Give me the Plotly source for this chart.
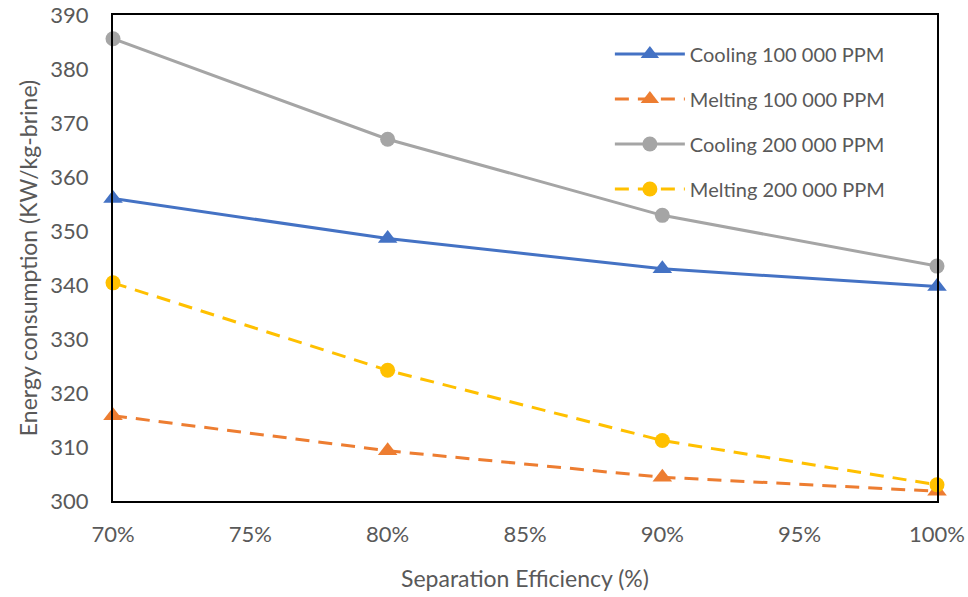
import plotly.graph_objects as go

# Separation efficiency (fraction) and specific energy consumption per case
efficiency = [0.70, 0.80, 0.90, 1.00]
cooling_100k = [356.0, 348.6, 343.0, 339.7]
melting_100k = [315.8, 309.3, 304.4, 301.8]
cooling_200k = [385.6, 367.0, 352.9, 343.5]
melting_200k = [340.4, 324.2, 311.2, 303.0]

series = [
    ("Cooling 100 000 PPM", cooling_100k, "#4472C4", "solid", "triangle-up", 17),
    ("Melting 100 000 PPM", melting_100k, "#ED7D31", "14px,9px", "triangle-up", 17),
    ("Cooling 200 000 PPM", cooling_200k, "#A5A5A5", "solid", "circle", 15),
    ("Melting 200 000 PPM", melting_200k, "#FFC000", "14px,9px", "circle", 15),
]

FONT = "Lato, 'Open Sans', sans-serif"
GREY = "#595959"

fig = go.Figure()
for i, (name, vals, color, dash, symbol, msize) in enumerate(series):
    fig.add_trace(go.Scatter(
        x=efficiency, y=vals, name=name, mode="lines+markers",
        legendgroup=f"g{i}",
        line=dict(color=color, width=3, dash=dash),
        marker=dict(color=color, symbol=symbol, size=msize),
        cliponaxis=False,
    ))

axis_common = dict(
    showgrid=False, zeroline=False, showline=True, linecolor="black",
    linewidth=2, mirror=True, ticks="", automargin=False,
    tickfont=dict(size=22, color=GREY, family=FONT),
)

fig.update_layout(
    width=968, height=597,
    margin=dict(l=113, r=31, t=15, b=96),
    paper_bgcolor="white", plot_bgcolor="white",
    font=dict(family=FONT, color=GREY),
    xaxis=dict(
        range=[0.70, 1.00], tick0=0.70, dtick=0.05, tickformat=".0%",
        ticklabelstandoff=13,
        title=dict(text="Separation Efficiency (%)", font=dict(size=23, color=GREY), standoff=24),
        **axis_common,
    ),
    yaxis=dict(
        range=[300, 390], dtick=10, ticklabelstandoff=18,
        title=dict(text="Energy consumption (KW/kg-brine)", font=dict(size=23, color=GREY), standoff=6),
        **axis_common,
    ),
    legend=dict(
        x=0.603, y=0.96, xanchor="left", yanchor="top",
        bgcolor="rgba(255,255,255,0)", font=dict(size=20, color=GREY, family=FONT),
        itemwidth=70, tracegroupgap=16, traceorder="grouped",
    ),
)

fig.write_html("out.html")
